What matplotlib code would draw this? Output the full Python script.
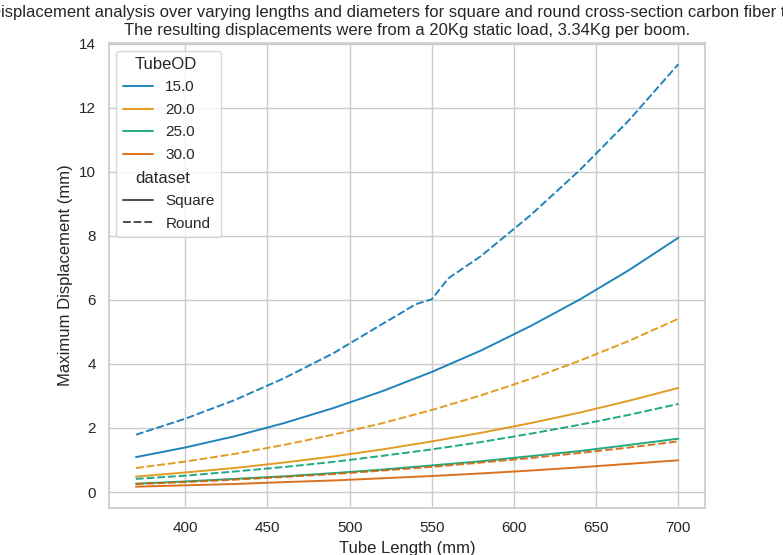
import matplotlib
matplotlib.use("Agg")
import matplotlib.pyplot as plt
import seaborn as sns
import pandas as pd

# tube lengths (mm) the deflections were read at
LENGTHS = [370, 400, 430, 460, 490, 520, 550, 580, 610, 640, 670, 700]
# the 15 mm round tube has a few extra points around the kink near 550 mm
LENGTHS_R15 = [370, 400, 430, 460, 490, 520, 530, 540, 550, 560, 580, 610, 640, 670, 700]

# square cross-section, max displacement (mm)
SQ15 = [1.09, 1.39, 1.74, 2.15, 2.62, 3.15, 3.75, 4.42, 5.18, 6.01, 6.93, 7.94]
SQ20 = [0.48, 0.61, 0.75, 0.92, 1.11, 1.33, 1.58, 1.85, 2.15, 2.48, 2.85, 3.25]
SQ25 = [0.26, 0.33, 0.41, 0.49, 0.59, 0.70, 0.83, 0.96, 1.12, 1.28, 1.47, 1.665]
SQ30 = [0.166, 0.21, 0.25, 0.31, 0.36, 0.43, 0.50, 0.58, 0.67, 0.77, 0.88, 0.99]

# round cross-section, max displacement (mm)
RD15 = [1.79, 2.29, 2.87, 3.55, 4.33, 5.25, 5.55, 5.86, 6.02, 6.67, 7.37, 8.64, 10.05, 11.61, 13.36]
RD20 = [0.75, 0.95, 1.19, 1.47, 1.79, 2.15, 2.56, 3.02, 3.53, 4.10, 4.72, 5.41]
RD25 = [0.41, 0.51, 0.64, 0.78, 0.94, 1.13, 1.33, 1.56, 1.82, 2.10, 2.41, 2.75]
RD30 = [0.25, 0.31, 0.385, 0.47, 0.56, 0.67, 0.785, 0.92, 1.06, 1.22, 1.39, 1.58]

TUBE_OD = [15.0, 20.0, 25.0, 30.0]

XCOL = "Tube Length (mm)"
YCOL = "Maximum Displacement (mm)"
SUBTITLES = ("TubeOD", "dataset")


def build_frame():
    rows = []
    series = [
        ("Square", [SQ15, SQ20, SQ25, SQ30]),
        ("Round", [RD15, RD20, RD25, RD30]),
    ]
    for name, values in series:
        for od, ys in zip(TUBE_OD, values):
            xs = LENGTHS_R15 if len(ys) == len(LENGTHS_R15) else LENGTHS
            for x, y in zip(xs, ys):
                rows.append({XCOL: x, YCOL: y, "TubeOD": od, "dataset": name})
    return pd.DataFrame(rows)


def shift_legend_subtitles(leg):
    # make the "TubeOD" / "dataset" entries sit flush left like section titles
    for col in leg._legend_handle_box.get_children():
        for item in col.get_children():
            draw_area, text_area = item.get_children()
            txt = text_area.get_children()[0]
            if txt.get_text() in SUBTITLES:
                draw_area.set_width(0)
                txt.set_fontsize(12)


def main():
    df = build_frame()

    sns.set_theme(style="whitegrid")
    plt.rcParams["font.family"] = ["Liberation Sans", "DejaVu Sans"]
    plt.rcParams["legend.labelspacing"] = 0.56

    fig, ax = plt.subplots(figsize=(7.83, 5.55), dpi=100)
    sns.lineplot(data=df, x=XCOL, y=YCOL, hue="TubeOD", style="dataset",
                 palette="colorblind", linewidth=1.4, alpha=0.88, ax=ax)
    shift_legend_subtitles(ax.get_legend())

    # first line is wider than the figure, it gets clipped on both sides like the original
    ax.set_title("Displacement analysis over varying lengths and diameters for square and "
                 "round cross-section carbon fiber tubes.\n"
                 "The resulting displacements were from a 20Kg static load, 3.34Kg per boom.")

    fig.subplots_adjust(left=0.139, right=0.901, top=0.9225, bottom=0.085)
    fig.savefig("out.png", dpi=100)
    plt.close(fig)


if __name__ == "__main__":
    main()
